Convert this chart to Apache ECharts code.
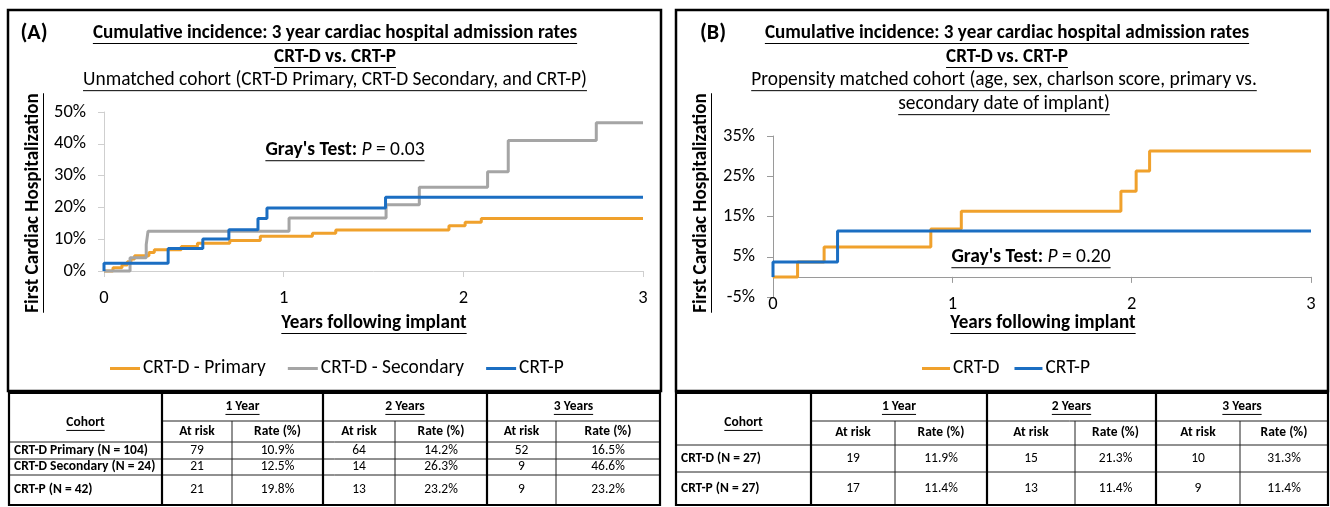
<!DOCTYPE html>
<html>
<head>
<meta charset="utf-8">
<script src="https://cdn.jsdelivr.net/npm/echarts@6/dist/echarts.min.js"></script>
<style>
  html, body { margin: 0; padding: 0; background: #fff; }
  #chart { width: 1330px; height: 507px; }
</style>
</head>
<body>
<div id="chart"></div>
<script>
var FONT = "Carlito, 'Liberation Sans Narrow', 'Arial Narrow', 'DejaVu Sans Condensed', 'Open Sans', sans-serif";

// ---- data ----
var yearTicks = [0, 1, 2, 3];

// panel A: unmatched cohort
var primaryTimeA   = [0, 0.05, 0.10, 0.13, 0.15, 0.17, 0.25, 0.28, 0.43, 0.52, 0.70, 0.87, 1.16, 1.29, 1.92, 2.01, 2.10, 3];
var primaryRateA   = [0, 1.0, 1.9, 2.9, 3.8, 4.8, 5.8, 6.7, 7.7, 8.7, 9.6, 10.9, 11.9, 12.9, 14.2, 15.3, 16.5, 16.5];
var secondaryTimeA = [0, 0.145, 0.235, 0.245, 1.03, 1.57, 1.755, 2.135, 2.25, 2.74, 3];
var secondaryRateA = [0, 4.2, 8.3, 12.5, 16.7, 20.8, 26.3, 31.2, 41.0, 46.6, 46.6];
var crtpTimeA      = [0, 0, 0.357, 0.55, 0.695, 0.857, 0.907, 1.567, 3];
var crtpRateA      = [0, 2.4, 7.1, 10.1, 13.0, 16.5, 19.8, 23.2, 23.2];

// panel B: propensity matched cohort
var crtdTimeB = [0, 0.137, 0.285, 0.88, 1.05, 1.94, 2.025, 2.10, 3];
var crtdRateB = [0, 3.7, 7.4, 11.9, 16.3, 21.3, 26.3, 31.3, 31.3];
var crtpTimeB = [0, 0, 0.36, 3];
var crtpRateB = [0, 3.7, 11.4, 11.4];

// tables
var yearHeaders = ['1 Year', '2 Years', '3 Years'];
var subHeaders = ['At risk', 'Rate (%)'];
var cohortsA = ['CRT-D Primary (N = 104)', 'CRT-D Secondary (N = 24)', 'CRT-P (N = 42)'];
var atRiskA = [[79, 64, 52], [21, 14, 9], [21, 13, 9]];
var ratesA = [['10.9%', '14.2%', '16.5%'], ['12.5%', '26.3%', '46.6%'], ['19.8%', '23.2%', '23.2%']];
var cohortsB = ['CRT-D (N = 27)', 'CRT-P (N = 27)'];
var atRiskB = [[19, 15, 10], [17, 13, 9]];
var ratesB = [['11.9%', '21.3%', '31.3%'], ['11.4%', '11.4%', '11.4%']];

var ORANGE = '#F0A12C', GRAY = '#A5A5A5', BLUE = '#1B6EC2';

// text measuring, used to size fonts and draw underlines
var mctx = document.createElement('canvas').getContext('2d');
function textWidth(s, size, weight, style) {
  mctx.font = (style || 'normal') + ' ' + (weight || 'normal') + ' ' + size + 'px ' + FONT;
  return mctx.measureText(s).width;
}
function fitSize(s, weight, width, style) {
  return Math.round(width * 200 / textWidth(s, 20, weight, style)) / 10;
}

function label(x, y, s, size, o) {
  o = o || {};
  return {
    type: 'text', x: x, y: y, rotation: o.rotation || 0, silent: true,
    style: {
      text: s, fill: '#000',
      font: (o.italic ? 'italic ' : '') + (o.bold ? 'bold ' : '') + size + 'px ' + FONT,
      textAlign: o.align || 'center', textVerticalAlign: 'middle'
    }
  };
}
function line(x1, y1, x2, y2, w, c) {
  return { type: 'line', silent: true, shape: { x1: x1, y1: y1, x2: x2, y2: y2 },
    style: { stroke: c || '#000', lineWidth: w || 1 } };
}
function underlined(cx, cy, s, size, bold, rotated) {
  var w = textWidth(s, size, bold ? 'bold' : 'normal');
  var off = size * 0.55;
  var out = [label(cx, cy, s, size, { bold: bold, rotation: rotated ? Math.PI / 2 : 0 })];
  if (rotated) out.push(line(cx + off, cy - w / 2, cx + off, cy + w / 2));
  else out.push(line(cx - w / 2, cy + off, cx + w / 2, cy + off));
  return out;
}
function graysTest(cx, cy, pText, size) {
  var a = "Gray's Test: ", b = 'P', c = ' = ' + pText;
  var wa = textWidth(a, size, 'bold'), wb = textWidth(b, size, 'normal', 'italic'), wc = textWidth(c, size);
  var x0 = cx - (wa + wb + wc) / 2;
  return [
    label(x0, cy, a, size, { bold: true, align: 'left' }),
    label(x0 + wa, cy, b, size, { italic: true, align: 'left' }),
    label(x0 + wa + wb, cy, c, size, { align: 'left' }),
    line(x0, cy + size * 0.55, x0 + wa + wb + wc, cy + size * 0.55)
  ];
}

function table(cols, rows, cohorts, atRisk, rates, size) {
  var out = [];
  var top = rows[0], bot = rows[rows.length - 1], left = cols[0], right = cols[cols.length - 1];
  // thin inner lines
  out.push(line(cols[1], rows[1], right, rows[1], 1, '#222'));
  for (var r = 2; r < rows.length - 1; r++) out.push(line(left, rows[r], right, rows[r], 1, '#222'));
  [2, 4, 6].forEach(function (c) { out.push(line(cols[c], rows[1], cols[c], bot, 1, '#222')); });
  // thick group lines and frame
  [1, 3, 5].forEach(function (c) { out.push(line(cols[c], top, cols[c], bot, 2.2)); });
  out.push({ type: 'rect', silent: true, shape: { x: left, y: top, width: right - left, height: bot - top },
    style: { fill: 'none', stroke: '#000', lineWidth: 2.2 } });
  // header text
  out = out.concat(underlined((cols[0] + cols[1]) / 2, 423, 'Cohort', size, true));
  yearHeaders.forEach(function (h, i) {
    out = out.concat(underlined((cols[1 + 2 * i] + cols[3 + 2 * i]) / 2, (rows[0] + rows[1]) / 2, h, size, true));
    out.push(label((cols[1 + 2 * i] + cols[2 + 2 * i]) / 2, (rows[1] + rows[2]) / 2, subHeaders[0], size, { bold: true }));
    out.push(label((cols[2 + 2 * i] + cols[3 + 2 * i]) / 2, (rows[1] + rows[2]) / 2, subHeaders[1], size, { bold: true }));
  });
  cohorts.forEach(function (name, k) {
    var cy = (rows[2 + k] + rows[3 + k]) / 2;
    out.push(label(cols[0] + 5, cy, name, size, { bold: true, align: 'left' }));
    for (var i = 0; i < 3; i++) {
      out.push(label((cols[1 + 2 * i] + cols[2 + 2 * i]) / 2, cy, String(atRisk[k][i]), size));
      out.push(label((cols[2 + 2 * i] + cols[3 + 2 * i]) / 2, cy, rates[k][i], size));
    }
  });
  return out;
}

var tSize = fitSize('Cumulative incidence: 3 year cardiac hospital admission rates', 'bold', 485);
var sSize = fitSize('Unmatched cohort (CRT-D Primary, CRT-D Secondary, and CRT-P)', 'normal', 503);
var xnSize = fitSize('Years following implant', 'bold', 185);
var ynSize = fitSize('First Cardiac Hospitalization', 'bold', 219);
var lgSize = fitSize('CRT-D - Secondary', 'normal', 143);
var tkSize = fitSize('50%', 'normal', 32);
var tbSize = Math.min(13.5, fitSize('CRT-D Secondary (N = 24)', 'bold', 143));
var gtSize = fitSize("Gray's Test: P = 0.03", 'bold', 160);

var g = [];
// panel frames
g.push({ type: 'rect', silent: true, shape: { x: 8, y: 10, width: 653, height: 381 }, style: { fill: 'none', stroke: '#000', lineWidth: 2.5 } });
g.push({ type: 'rect', silent: true, shape: { x: 676, y: 10, width: 652, height: 381 }, style: { fill: 'none', stroke: '#000', lineWidth: 2.5 } });
// panel A texts
g.push(label(34, 33, '(A)', tSize + 3, { bold: true }));
g = g.concat(underlined(335, 33, 'Cumulative incidence: 3 year cardiac hospital admission rates', tSize, true));
g = g.concat(underlined(335, 57, 'CRT-D vs. CRT-P', tSize, true));
g = g.concat(underlined(335, 80, 'Unmatched cohort (CRT-D Primary, CRT-D Secondary, and CRT-P)', sSize, false));
g = g.concat(underlined(33, 203, 'First Cardiac Hospitalization', ynSize, true, true));
g = g.concat(underlined(374, 323, 'Years following implant', xnSize, true));
g = g.concat(graysTest(345, 150, '0.03', gtSize));
// panel B texts
g.push(label(713, 33, '(B)', tSize + 3, { bold: true }));
g = g.concat(underlined(1007, 33, 'Cumulative incidence: 3 year cardiac hospital admission rates', tSize, true));
g = g.concat(underlined(1007, 57, 'CRT-D vs. CRT-P', tSize, true));
g = g.concat(underlined(1004, 80, 'Propensity matched cohort (age, sex, charlson score, primary vs.', sSize, false));
g = g.concat(underlined(1004, 104, 'secondary date of implant)', sSize, false));
g = g.concat(underlined(701, 203, 'First Cardiac Hospitalization', ynSize, true, true));
g = g.concat(underlined(1043, 323, 'Years following implant', xnSize, true));
g = g.concat(graysTest(1031, 257, '0.20', gtSize));
// tables
g = g.concat(table([9, 162, 232, 323, 395, 487, 556, 660], [393, 421, 442, 459, 475, 505], cohortsA, atRiskA, ratesA, tbSize));
g = g.concat(table([676, 811, 895, 987, 1075, 1156, 1240, 1328], [393, 421, 445, 472, 505], cohortsB, atRiskB, ratesB, tbSize));

function pairs(ts, vs) { return ts.map(function (t, i) { return [t, vs[i]]; }); }

function xAxisFor(idx, color, margin) {
  return {
    gridIndex: idx, type: 'value', min: 0, max: 3, interval: 1,
    axisLine: { lineStyle: { color: color, width: 1 } },
    axisTick: { show: true, length: 6, lineStyle: { color: color } },
    axisLabel: { margin: margin, fontSize: tkSize, fontFamily: FONT, color: '#000',
      formatter: function (v) { return yearTicks.indexOf(v) >= 0 ? String(v) : ''; } },
    splitLine: { show: false }
  };
}
function yAxisFor(idx, min, max, color) {
  return {
    gridIndex: idx, type: 'value', min: min, max: max, interval: 10,
    axisLine: { show: true, lineStyle: { color: color, width: 1 } },
    axisTick: { show: true, length: 6, lineStyle: { color: color } },
    axisLabel: { margin: 18, fontSize: tkSize, fontFamily: FONT, color: '#000', formatter: '{value}%' },
    splitLine: { show: false }
  };
}
function stepSeries(name, data, color, axisIdx) {
  return {
    name: name, type: 'line', step: 'end', symbol: 'none', clip: false,
    xAxisIndex: axisIdx, yAxisIndex: axisIdx, data: data,
    lineStyle: { color: color, width: 3 }, itemStyle: { color: color }
  };
}

var legendText = { fontSize: lgSize, fontFamily: FONT, color: '#000', padding: [0, 0, 0, -2] };

chart = echarts.init(document.getElementById('chart'));
chart.setOption({
  animation: false,
  grid: [
    { left: 104, top: 112, width: 539, height: 159 },
    { left: 773, top: 136, width: 538, height: 161 }
  ],
  xAxis: [xAxisFor(0, '#cfcfcf', 18), xAxisFor(1, '#9a9a9a', -2)],
  yAxis: [yAxisFor(0, 0, 50, '#cfcfcf'), yAxisFor(1, -5, 35, '#9a9a9a')],
  legend: [
    { data: ['CRT-D - Primary', 'CRT-D - Secondary', 'CRT-P'], left: 110, top: 359, padding: 0,
      icon: 'rect', itemWidth: 30, itemHeight: 3, itemGap: 22, selectedMode: false, textStyle: legendText },
    { data: ['CRT-D', 'CRT-P'], left: 922, top: 359, padding: 0,
      icon: 'rect', itemWidth: 28, itemHeight: 3, itemGap: 15, selectedMode: false, textStyle: legendText }
  ],
  series: [
    stepSeries('CRT-D - Primary', pairs(primaryTimeA, primaryRateA), ORANGE, 0),
    stepSeries('CRT-D - Secondary', pairs(secondaryTimeA, secondaryRateA), GRAY, 0),
    stepSeries('CRT-P', pairs(crtpTimeA, crtpRateA), BLUE, 0),
    stepSeries('CRT-D', pairs(crtdTimeB, crtdRateB), ORANGE, 1),
    stepSeries('CRT-P', pairs(crtpTimeB, crtpRateB), BLUE, 1)
  ],
  graphic: { elements: g }
});
</script>
</body>
</html>
